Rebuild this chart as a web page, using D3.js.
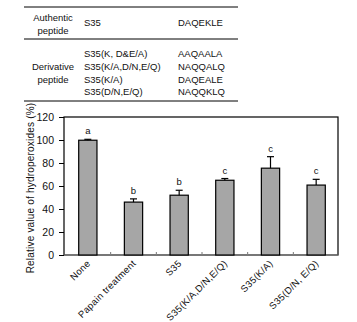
<!DOCTYPE html>
<html>
<head>
<meta charset="utf-8">
<script src="https://cdn.jsdelivr.net/npm/d3@7"></script>
<style>
  body { margin: 0; background: #fff; }
  svg { display: block; font-family: "Liberation Sans", Arial, sans-serif; }
</style>
</head>
<body>
<div id="chart"></div>
<script>
// data
const categories = ["None", "Papain treatment", "S35", "S35(K/A,D/N,E/Q)", "S35(K/A)", "S35(D/N, E/Q)"];
const values = [99.8, 46, 52, 65, 75.5, 60.8];
const errors = [0.8, 2.8, 4.3, 1.5, 10, 5];
const letters = ["a", "b", "b", "c", "c", "c"];
const yTicks = [0, 20, 40, 60, 80, 100, 120];

// table rows
const groupNames = [["Authentic", "peptide"], ["Derivative", "peptide"]];
const peptideNames = ["S35", "S35(K, D&E/A)", "S35(K/A,D/N,E/Q)", "S35(K/A)", "S35(D/N,E/Q)"];
const sequences = ["DAQEKLE", "AAQAALA", "NAQQALQ", "DAQEALE", "NAQQKLQ"];

const W = 357, H = 322;
const svg = d3.select("#chart").append("svg")
    .attr("width", W)
    .attr("height", H);

// ---- table ----
const tbl = svg.append("g").style("font-size", "9.5px").attr("fill", "#111");
const lineY = [7, 39, 101];
tbl.selectAll("line")
    .data(lineY)
    .enter().append("line")
    .attr("x1", 24).attr("x2", 238)
    .attr("y1", d => d).attr("y2", d => d)
    .attr("stroke", "#000").attr("stroke-width", 1);

// group labels
const groupY = [[18, 31], [67, 80]];
groupNames.forEach((g, i) => {
    g.forEach((t, j) => {
        tbl.append("text")
            .attr("x", 53).attr("y", groupY[i][j])
            .attr("dy", "0.35em")
            .attr("text-anchor", "middle")
            .text(t);
    });
});
const rowY = [23, 54, 67, 80, 92];
tbl.selectAll("text.name")
    .data(peptideNames)
    .enter().append("text")
    .attr("class", "name")
    .attr("x", 84).attr("y", (d, i) => rowY[i])
    .attr("dy", "0.35em")
    .text(d => d);
tbl.selectAll("text.seq")
    .data(sequences)
    .enter().append("text")
    .attr("class", "seq")
    .attr("x", 178).attr("y", (d, i) => rowY[i])
    .attr("dy", "0.35em")
    .text(d => d);

// ---- bar chart ----
const margin = {left: 64, right: 19, top: 117, bottom: 67};
const x = d3.scaleBand()
    .domain(categories)
    .range([margin.left + 1, W - margin.right + 1])
    .paddingInner(0.6)
    .paddingOuter(0.3);
const y = d3.scaleLinear()
    .domain([0, 120])
    .range([H - margin.bottom, margin.top]);

const g = svg.append("g");

// frame
g.append("rect")
    .attr("x", margin.left).attr("y", margin.top)
    .attr("width", W - margin.right - margin.left)
    .attr("height", y(0) - margin.top)
    .attr("fill", "none")
    .attr("stroke", "#000")
    .attr("stroke-width", 1.2);

// y axis
const yAxis = g.append("g")
    .attr("transform", `translate(${margin.left},0)`)
    .call(d3.axisLeft(y).tickValues(yTicks).tickSize(5).tickPadding(5));
yAxis.attr("font-size", 10.5).attr("font-family", "Liberation Sans, Arial, sans-serif");
yAxis.select(".domain").remove();
yAxis.selectAll("text").attr("fill", "#111");

// x axis
const step = x.step();
const boundaries = categories.slice(1).map(c => x(c) - (step - x.bandwidth()) / 2);
g.selectAll("line.xt")
    .data(boundaries)
    .enter().append("line")
    .attr("class", "xt")
    .attr("x1", d => d).attr("x2", d => d)
    .attr("y1", y(0)).attr("y2", y(0) - 3)
    .attr("stroke", "#777");
g.append("line")
    .attr("x1", margin.left).attr("x2", W - margin.right)
    .attr("y1", y(0)).attr("y2", y(0))
    .attr("stroke", "#888").attr("stroke-width", 1.2);

// bars
g.selectAll("rect.bar")
    .data(values)
    .enter().append("rect")
    .attr("class", "bar")
    .attr("x", (d, i) => x(categories[i]))
    .attr("y", d => y(d))
    .attr("width", x.bandwidth())
    .attr("height", d => y(0) - y(d))
    .attr("fill", "#a6a6a6")
    .attr("stroke", "#000")
    .attr("stroke-width", 1.2);

// error bars
const cx = i => x(categories[i]) + x.bandwidth() / 2;
g.selectAll("line.err")
    .data(values)
    .enter().append("line")
    .attr("x1", (d, i) => cx(i)).attr("x2", (d, i) => cx(i))
    .attr("y1", d => y(d)).attr("y2", (d, i) => y(d + errors[i]))
    .attr("stroke", "#000").attr("stroke-width", 1.2);
g.selectAll("line.cap")
    .data(values)
    .enter().append("line")
    .attr("x1", (d, i) => cx(i) - 3.5).attr("x2", (d, i) => cx(i) + 3.5)
    .attr("y1", (d, i) => y(d + errors[i])).attr("y2", (d, i) => y(d + errors[i]))
    .attr("stroke", "#000").attr("stroke-width", 1.2);

// significance letters
g.selectAll("text.sig")
    .data(letters)
    .enter().append("text")
    .attr("x", (d, i) => cx(i))
    .attr("y", (d, i) => y(values[i] + errors[i]) - 5)
    .attr("text-anchor", "middle")
    .style("font-size", "9.5px")
    .attr("fill", "#111")
    .text(d => d);

// category labels
g.selectAll("text.cat")
    .data(categories)
    .enter().append("text")
    .attr("transform", (d, i) => `translate(${cx(i) + 3},${y(0) + 9}) rotate(-45)`)
    .attr("text-anchor", "end")
    .style("font-size", "9.5px")
    .style("letter-spacing", "0.3px")
    .attr("fill", "#111")
    .text(d => d);

// y title
g.append("text")
    .attr("transform", `translate(30,${(y(0) + y(120)) / 2 + 2}) rotate(-90)`)
    .attr("text-anchor", "middle")
    .attr("dy", "0.35em")
    .style("font-size", "10px")
    .style("letter-spacing", "0.2px")
    .attr("fill", "#111")
    .text("Relative value of hydroperoxides (%)");
</script>
</body>
</html>
